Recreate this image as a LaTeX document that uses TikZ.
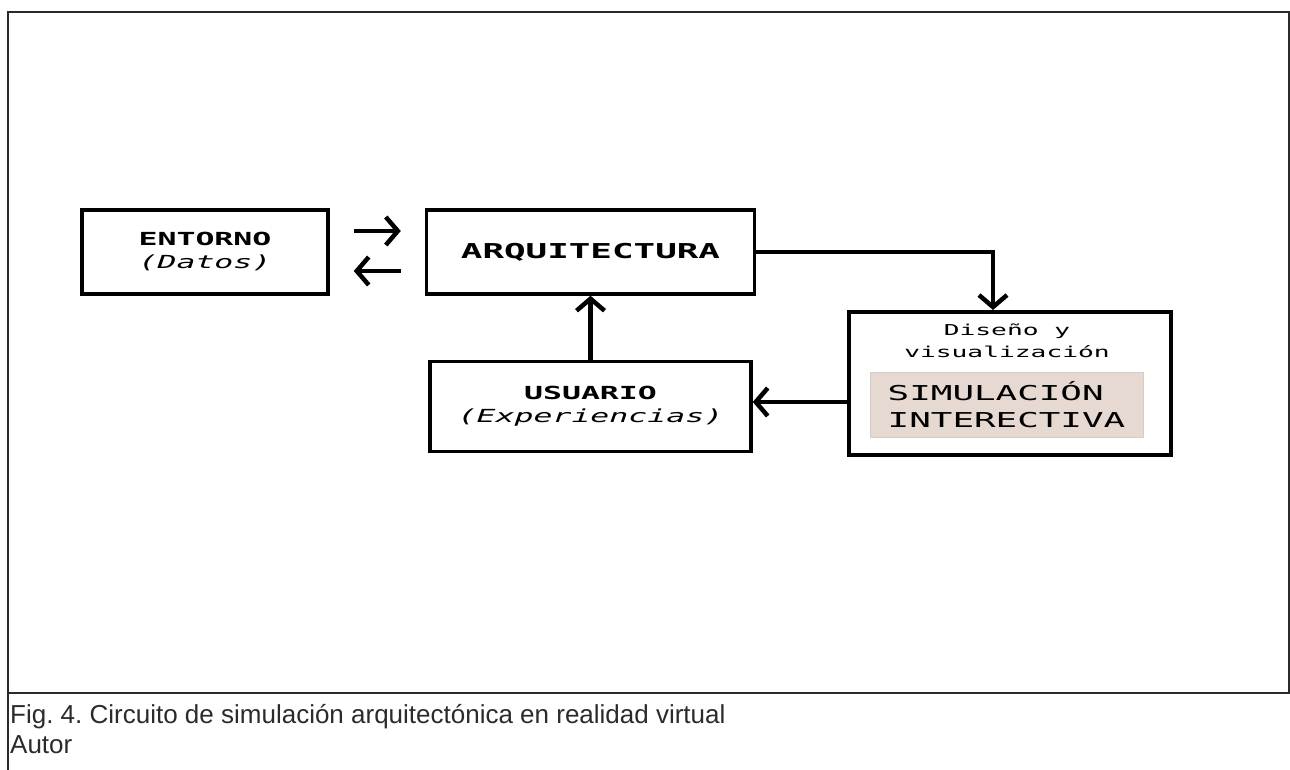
\documentclass[tikz,border=0pt]{standalone}
\usepackage{fontspec}
\setmainfont{Liberation Sans}
\newfontfamily\monof[FakeStretch=1.75]{DejaVu Sans Mono}
\usetikzlibrary{arrows.meta,positioning}
\definecolor{simfill}{HTML}{E6D9D2}
\definecolor{marco}{HTML}{2B2B2B}

\begin{document}
\begin{tikzpicture}[x=1pt,y=-1pt,>={Straight Barb[length=12pt,width=28pt]},
    blk/.style={draw,line width=3.5pt,align=center,inner sep=0pt,font=\monof},
    lnk/.style={line width=4.5pt}]

      \useasboundingbox (0,0) rectangle (1290,770);

      % marco de la figura
      \draw[marco,line width=2.8pt] (8,12) rectangle (1289,693);
      \draw[marco,line width=2.8pt] (8,693) -- (8,770);

      \node[blk,minimum width=246pt,minimum height=84pt,
            font=\monof\fontsize{18pt}{23pt}\selectfont] (ent) at (205,252)
            {\textbf{ENTORNO}\\\textit{(Datos)}};
      \node[blk,minimum width=328pt,minimum height=84pt,
            font=\monof\fontsize{20.5pt}{24pt}\selectfont] (arq) [right=95pt of ent]
            {\textbf{ARQUITECTURA}};
      \node[blk,minimum width=321pt,minimum height=90pt,
            font=\monof\fontsize{18pt}{23pt}\selectfont] (usu) [below=64pt of arq]
            {\textbf{USUARIO}\\\textit{(Experiencias)}};
      \node[blk,line width=4pt,minimum width=322pt,minimum height=143pt] (sim) at (1010,383.5) {};
      \node[align=center,inner sep=0pt,font=\monof\fontsize{15pt}{22pt}\selectfont] (dis) at (1007,341)
            {Diseño y\\visualización};
      \node[fill=simfill,draw=simfill!85!gray,line width=0.8pt,align=left,inner sep=0pt,
            minimum width=273pt,minimum height=65pt,
            font=\monof\fontsize{20.5pt}{27pt}\selectfont] (simtxt) at (1006.5,404.5)
            {SIMULACIÓN\\INTERECTIVA};

      \path[->,lnk,shorten <=24pt,shorten >=24pt]
      ([yshift=21pt]ent.east) edge ([yshift=21pt]arq.west)
      ([yshift=-19pt]arq.west) edge ([yshift=-19pt]ent.east)
      ;
      \draw[->,lnk] (arq.east) -| ([xshift=-17pt]sim.north);
      \draw[->,lnk] ([yshift=-18.5pt]sim.west) -- ([yshift=-18.5pt]sim.west -| usu.east);
      \draw[->,lnk] (usu) -- (arq);

      \node[anchor=base west,inner sep=0pt,text=marco,font=\fontsize{26pt}{31pt}\selectfont\frenchspacing] (cap) at (10,723)
            {Fig. 4. Circuito de simulación arquitectónica en realidad virtual};
      \node[anchor=base west,inner sep=0pt,text=marco,font=\fontsize{26pt}{31pt}\selectfont] (aut) at (10,753)
            {Autor};
\end{tikzpicture}
\end{document}
